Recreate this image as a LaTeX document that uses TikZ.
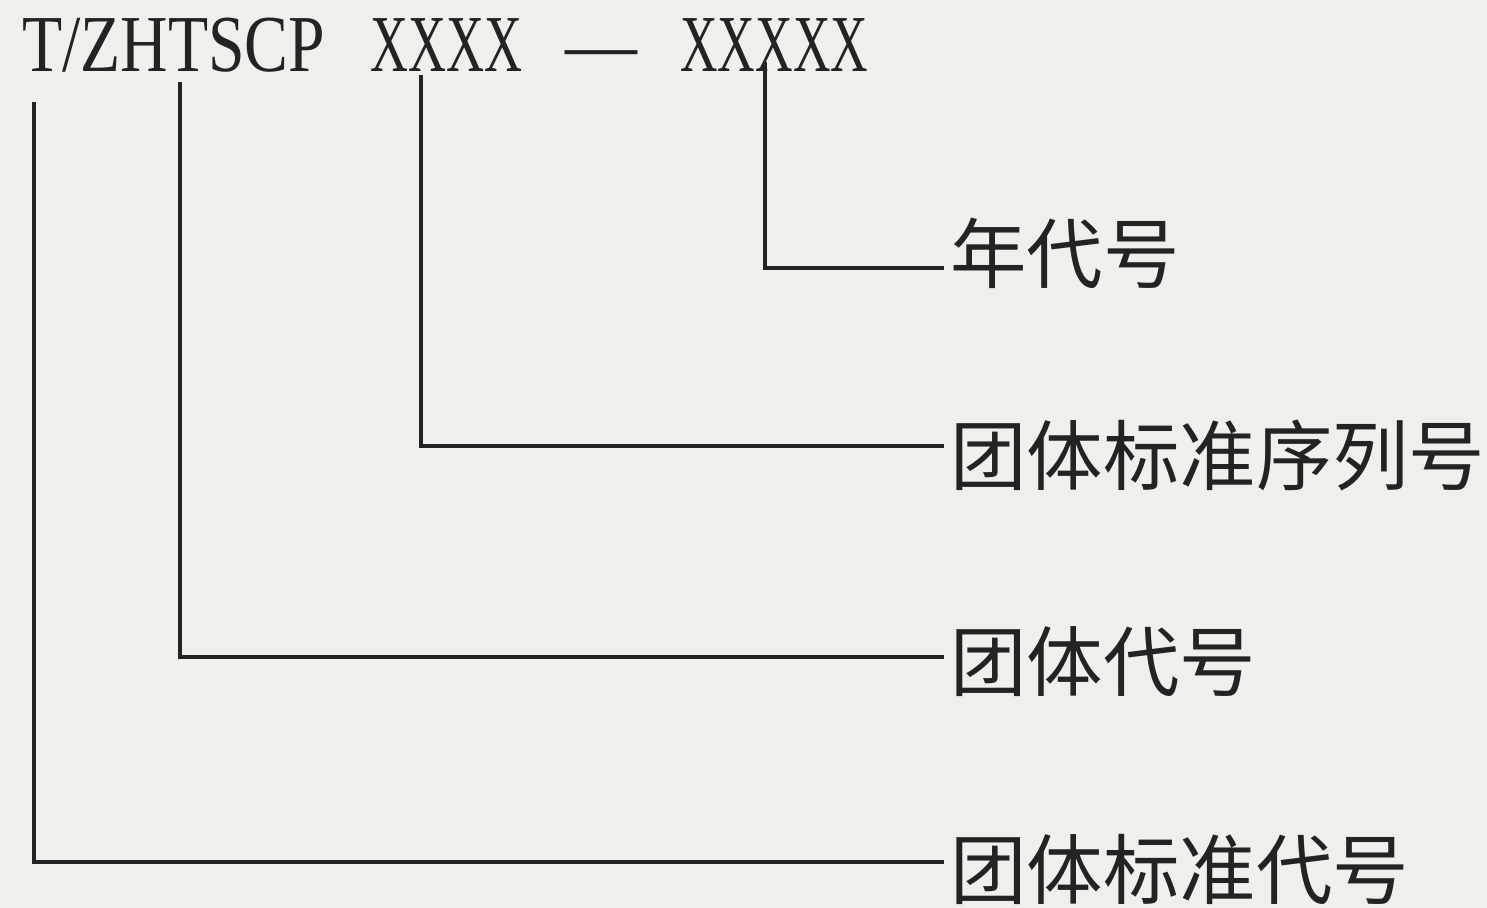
\documentclass[tikz,border=0pt]{standalone}
\usepackage{fontspec}
\usepackage{xcolor}
\usepackage{tikz}
\setmainfont{Liberation Serif}
\newfontfamily\cjk{Noto Sans CJK SC}
\definecolor{paper}{RGB}{240,239,236}
\definecolor{ink}{RGB}{35,35,35}

\begin{document}
\begin{tikzpicture}[x=0.02cm, y=-0.02cm,
    code/.style={anchor=base west, inner sep=0pt, text=ink, font=\fontsize{46}{46}\selectfont},
    lab/.style={anchor=west, inner sep=0pt, text=ink, font=\cjk\fontsize{43.5}{43.5}\selectfont},
    lead/.style={draw=ink, line width=2pt}]
    \fill[paper] (0,0) rectangle (1487,908);
    \useasboundingbox (0,0) rectangle (1487,908);

    \node[code] (org) at (22,72) {\resizebox{6.06cm}{\height}{T/ZHTSCP}};
    \node[code] (seq) at (370,72) {\resizebox{3.04cm}{\height}{XXXX}};
    \node[code] (dash) at (565,72) {\resizebox{1.44cm}{\height}{---}};
    \node[code] (year) at (680,72) {\resizebox{3.76cm}{\height}{XXXXX}};

    \node[lab] (yearlab) at (950,253) {年代号};
    \node[lab] (seqlab) at (950,455) {团体标准序列号};
    \node[lab] (grplab) at (950,662) {团体代号};
    \node[lab] (stdlab) at (950,870) {团体标准代号};

    \coordinate (t1) at (765,62);
    \coordinate (t2) at (421,75);
    \coordinate (t3) at (180,82);
    \coordinate (t4) at (34,102);
    \coordinate (e1) at (944,268);
    \coordinate (e2) at (944,446);
    \coordinate (e3) at (944,657);
    \coordinate (e4) at (944,862);

    \draw[lead] (t1) |- (e1);
    \draw[lead] (t2) |- (e2);
    \draw[lead] (t3) |- (e3);
    \draw[lead] (t4) |- (e4);
\end{tikzpicture}
\end{document}
